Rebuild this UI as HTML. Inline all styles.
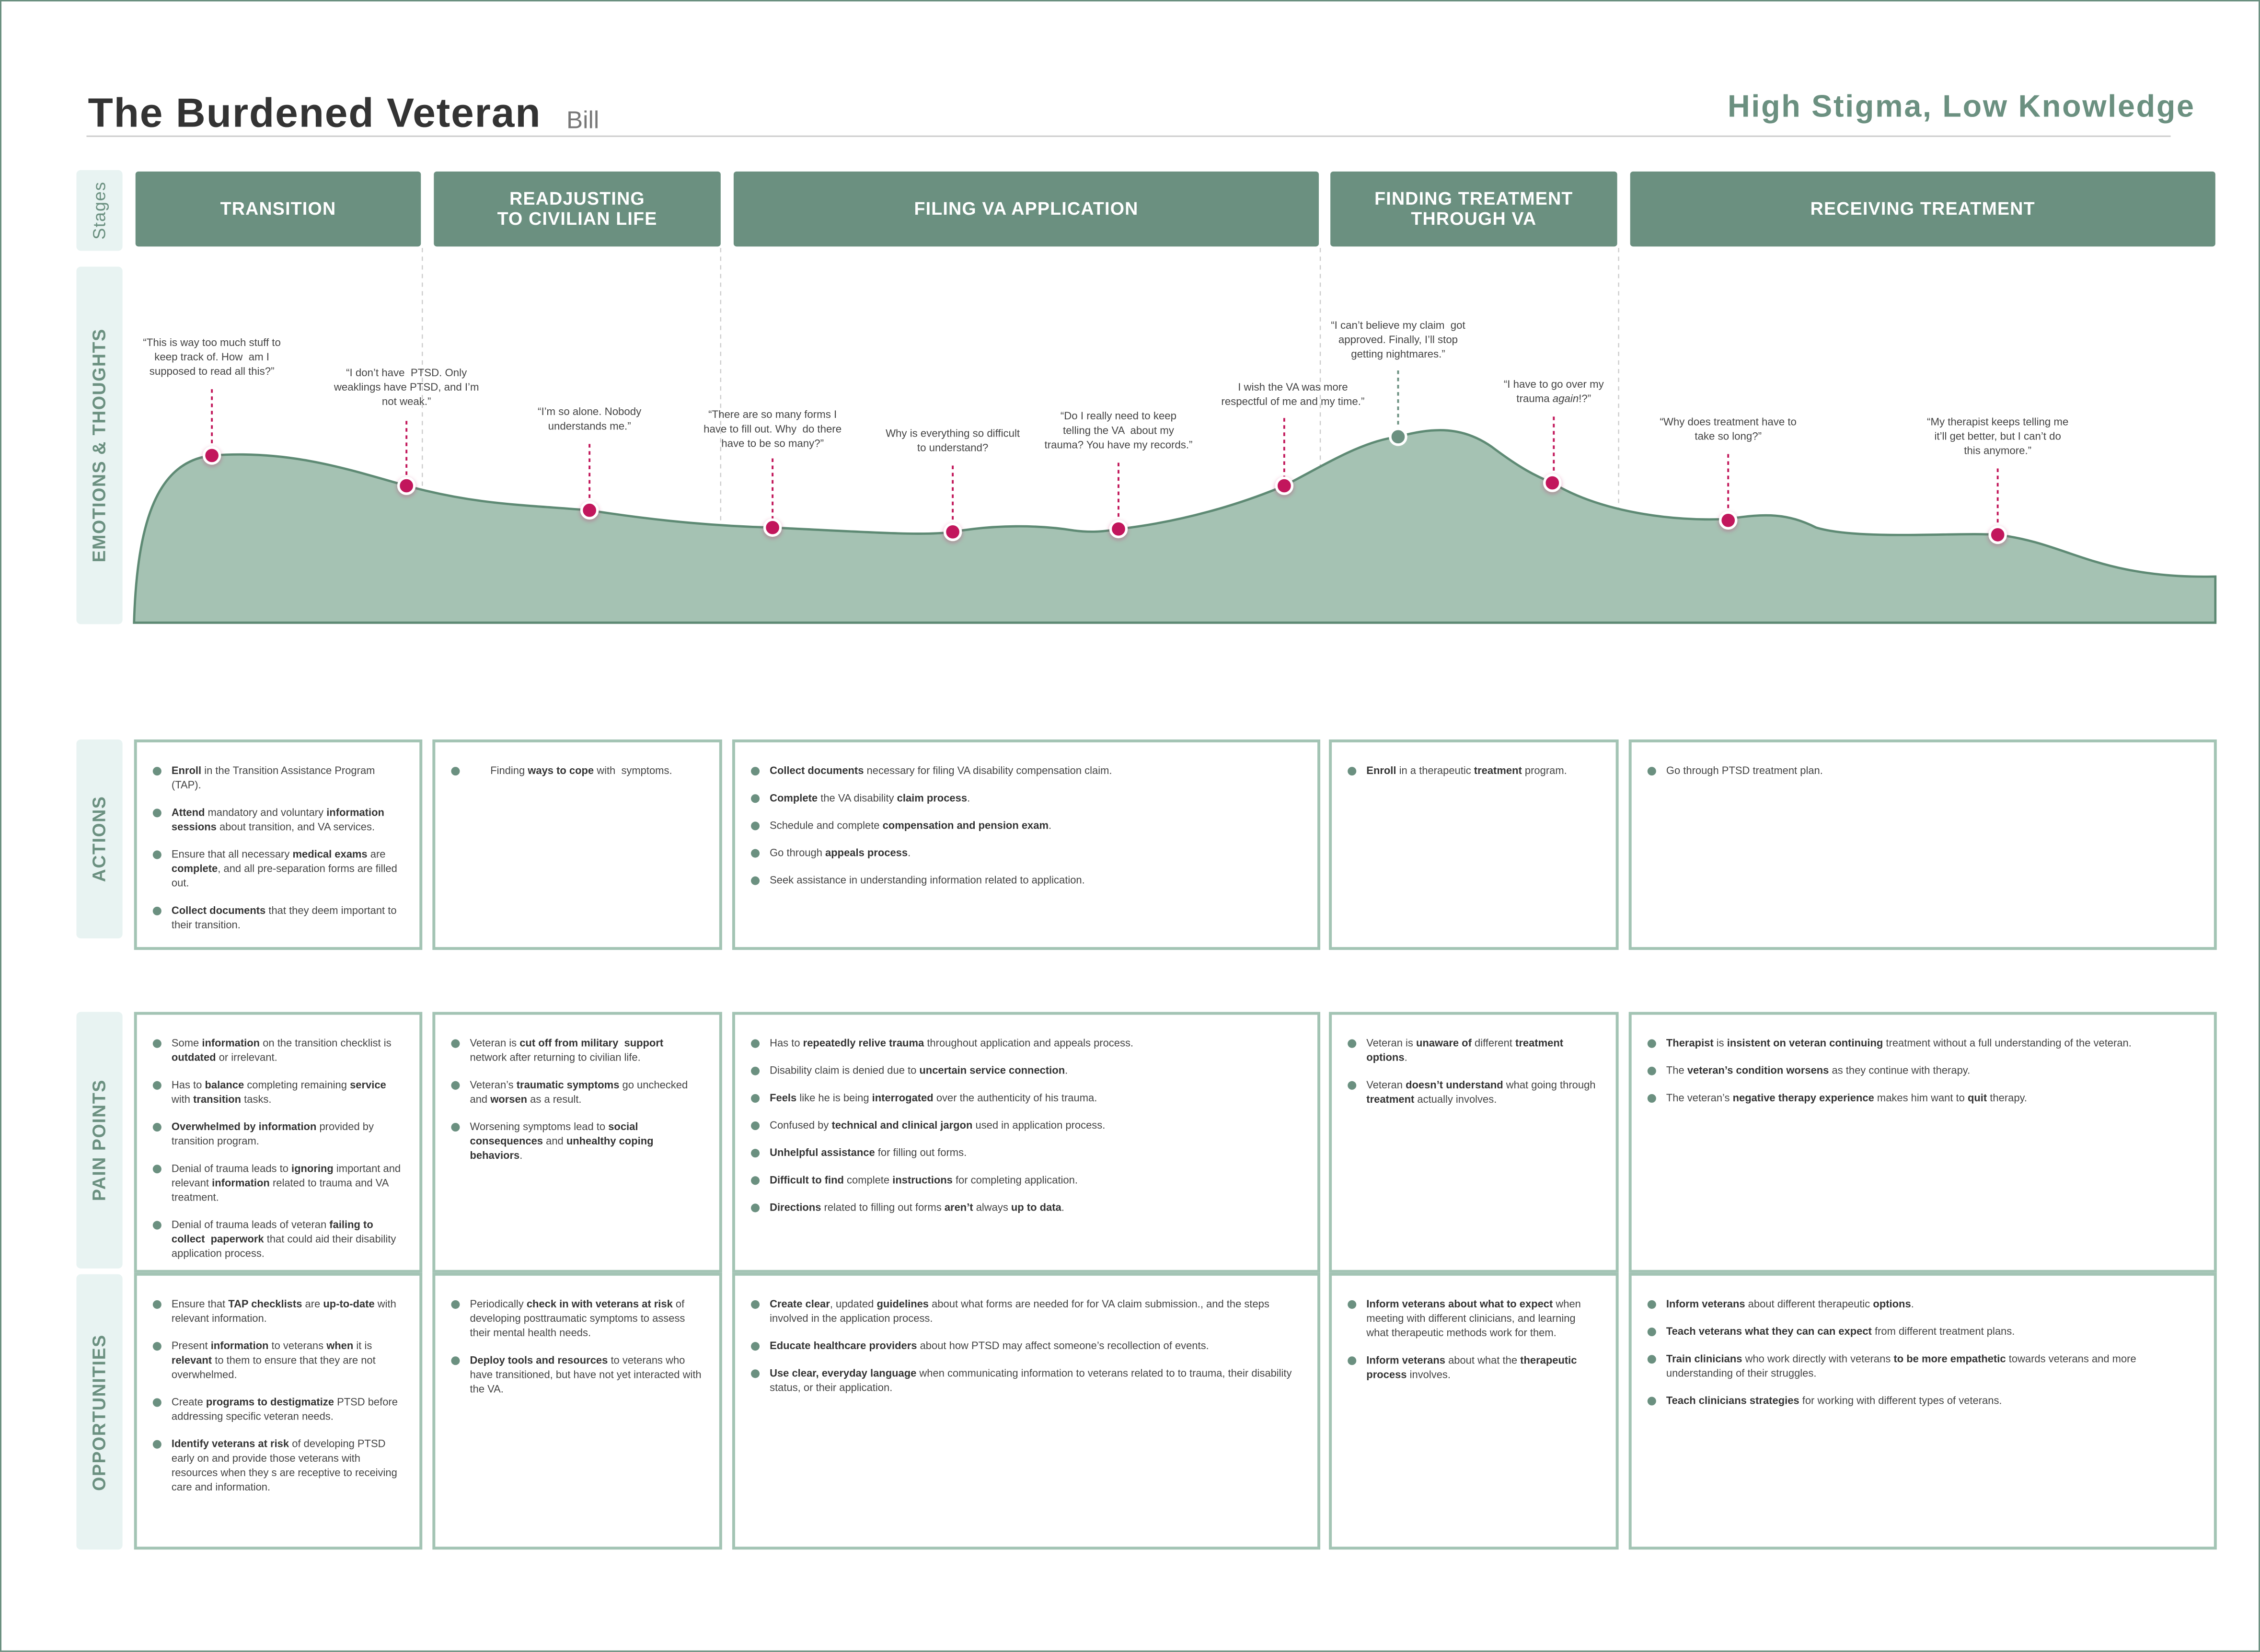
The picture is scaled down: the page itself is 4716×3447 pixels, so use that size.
<!DOCTYPE html>
<html><head><meta charset="utf-8">
<style>
html,body{margin:0;padding:0;background:#fff;}
body{width:4716px;height:3446px;overflow:hidden;position:relative;}
#s{position:absolute;left:0;top:0;width:1568px;height:1146px;transform:scale(3.0077);transform-origin:0 0;font-family:"Liberation Sans",sans-serif;color:#444;}
.abs{position:absolute;}
.frame{left:0;top:0;width:1566px;height:1144px;border:1px solid #6b9080;}
.lbl{background:#e8f3f2;border-radius:3px;}
.lbl span{position:absolute;left:50%;top:50%;transform:translate(-50%,-50%) rotate(-90deg);white-space:nowrap;color:#6b9080;font-weight:bold;font-size:12.5px;letter-spacing:.5px;}
.stage{background:#6b9080;color:#fff;font-weight:bold;font-size:12.5px;letter-spacing:.4px;display:flex;align-items:center;justify-content:center;text-align:center;line-height:14px;top:119px;height:52px;border-radius:2px;}
.q{font-size:7.4px;line-height:10px;text-align:center;color:#444;transform:translateX(-50%);white-space:nowrap;}
.box{border:2px solid #a3c4b4;box-sizing:border-box;padding:15px 12px 0 24px;}
.box ul{list-style:none;margin:0;padding:0;}
.box li{position:relative;font-size:7.3px;line-height:10px;margin-bottom:9px;}
.box li:before{content:"";position:absolute;left:-13px;top:2px;width:6px;height:6px;border-radius:50%;background:#6b9080;}
.box b{color:#333;}
</style></head><body><div id="s">
<div class="abs frame"></div>
<div class="abs" style="left:61px;top:63px;font-size:28.5px;font-weight:bold;color:#333;letter-spacing:.6px;">The Burdened Veteran</div>
<div class="abs" style="left:393px;top:74px;font-size:17px;color:#777;">Bill</div>
<div class="abs" style="left:60px;top:94px;width:1446px;height:1px;background:#ccc;"></div>
<div class="abs" style="right:45px;top:62px;font-size:21.5px;font-weight:bold;color:#6b9080;letter-spacing:.9px;">High Stigma, Low Knowledge</div>

<div class="abs lbl" style="left:53px;top:118px;width:32px;height:56px;"><span style="font-weight:normal;font-size:12px;">Stages</span></div>
<div class="abs lbl" style="left:53px;top:185px;width:32px;height:248px;"><span>EMOTIONS &amp; THOUGHTS</span></div>
<div class="abs lbl" style="left:53px;top:513px;width:32px;height:138px;"><span>ACTIONS</span></div>
<div class="abs lbl" style="left:53px;top:702px;width:32px;height:178px;"><span>PAIN POINTS</span></div>
<div class="abs lbl" style="left:53px;top:884px;width:32px;height:191px;"><span>OPPORTUNITIES</span></div>

<div class="abs stage" style="left:94px;width:198px;">TRANSITION</div>
<div class="abs stage" style="left:301px;width:199px;">READJUSTING<br>TO CIVILIAN LIFE</div>
<div class="abs stage" style="left:509px;width:406px;">FILING VA APPLICATION</div>
<div class="abs stage" style="left:923px;width:199px;">FINDING TREATMENT<br>THROUGH VA</div>
<div class="abs stage" style="left:1131px;width:406px;">RECEIVING TREATMENT</div>

<svg class="abs" style="left:0;top:0;" width="1568" height="460">
<defs><filter id="g" x="-1" y="-1" width="3" height="3"><feDropShadow dx="0" dy="1" stdDeviation="1.5" flood-color="#c2185b" flood-opacity=".35"/></filter></defs>
<g stroke="#ccc" stroke-width="0.8" stroke-dasharray="3,3">
<line x1="293" y1="172" x2="293" y2="432"/><line x1="500" y1="172" x2="500" y2="432"/><line x1="916" y1="172" x2="916" y2="432"/><line x1="1123" y1="172" x2="1123" y2="432"/>
</g>
<path d="M93,432 C95,360 110,320 147,316 C200,312 240,325 282,337 C330,350 360,350 409,354 C460,362 500,365 536,366 C600,369 640,372 661,369 C690,364 720,364 745,368 C760,370 770,368 776,367 C820,362 860,350 891,337 C920,322 945,306 970,303 C995,296 1015,296 1035,310 C1055,325 1065,330 1077,335 C1110,355 1160,362 1199,360 C1225,356 1240,356 1260,366 C1290,375 1360,369 1386,371 C1420,375 1440,388 1475,395 C1505,401 1530,400 1537,400 L1537,432 Z" fill="#a5c2b3" stroke="#5e8a74" stroke-width="1.6"/>
<g stroke="#c2185b" stroke-width="1.3" stroke-dasharray="2.5,2.5">
<line x1="147" y1="270" x2="147" y2="312"/><line x1="282" y1="292" x2="282" y2="333"/><line x1="409" y1="308" x2="409" y2="350"/><line x1="536" y1="318" x2="536" y2="362"/><line x1="661" y1="323" x2="661" y2="365"/><line x1="776" y1="321" x2="776" y2="363"/><line x1="891" y1="290" x2="891" y2="333"/><line x1="1078" y1="289" x2="1078" y2="331"/><line x1="1199" y1="315" x2="1199" y2="357"/><line x1="1386" y1="325" x2="1386" y2="367"/>
</g>
<line x1="970" y1="257" x2="970" y2="299" stroke="#6b9080" stroke-width="1.3" stroke-dasharray="2.5,2.5"/>
<g fill="#c2185b" stroke="#fff" stroke-width="1.8" filter="url(#g)">
<circle cx="147" cy="316" r="5.5"/><circle cx="282" cy="337" r="5.5"/><circle cx="409" cy="354" r="5.5"/><circle cx="536" cy="366" r="5.5"/><circle cx="661" cy="369" r="5.5"/><circle cx="776" cy="367" r="5.5"/><circle cx="891" cy="337" r="5.5"/><circle cx="1077" cy="335" r="5.5"/><circle cx="1199" cy="361" r="5.5"/><circle cx="1386" cy="371" r="5.5"/>
</g>
<circle cx="970" cy="303" r="5.5" fill="#6b9080" stroke="#fff" stroke-width="1.8"/>
</svg>

<div class="abs q" style="left:147px;top:233px;">“This is way too much stuff to<br>keep track of. How &nbsp;am I<br>supposed to read all this?”</div>
<div class="abs q" style="left:282px;top:254px;">“I don’t have &nbsp;PTSD. Only<br>weaklings have PTSD, and I’m<br>not weak.”</div>
<div class="abs q" style="left:409px;top:281px;">“I’m so alone. Nobody<br>understands me.”</div>
<div class="abs q" style="left:536px;top:283px;">“There are so many forms I<br>have to fill out. Why &nbsp;do there<br>have to be so many?”</div>
<div class="abs q" style="left:661px;top:296px;">Why is everything so difficult<br>to understand?</div>
<div class="abs q" style="left:776px;top:284px;">“Do I really need to keep<br>telling the VA &nbsp;about my<br>trauma? You have my records.”</div>
<div class="abs q" style="left:897px;top:264px;">I wish the VA was more<br>respectful of me and my time.”</div>
<div class="abs q" style="left:970px;top:221px;">“I can’t believe my claim &nbsp;got<br>approved. Finally, I’ll stop<br>getting nightmares.”</div>
<div class="abs q" style="left:1078px;top:262px;">“I have to go over my<br>trauma <i>again</i>!?”</div>
<div class="abs q" style="left:1199px;top:288px;">“Why does treatment have to<br>take so long?”</div>
<div class="abs q" style="left:1386px;top:288px;">“My therapist keeps telling me<br>it’ll get better, but I can’t do<br>this anymore.”</div>

<!-- ACTIONS -->
<div class="abs box" style="left:93px;top:513px;width:200px;height:146px;"><ul>
<li><b>Enroll</b> in the Transition Assistance Program (TAP).</li>
<li><b>Attend</b> mandatory and voluntary <b>information sessions</b> about transition, and VA services.</li>
<li>Ensure that all necessary <b>medical exams</b> are <b>complete</b>, and all pre-separation forms are filled out.</li>
<li><b>Collect documents</b> that they deem important to their transition.</li></ul></div>
<div class="abs box" style="left:300px;top:513px;width:201px;height:146px;"><ul>
<li>&nbsp;&nbsp;&nbsp;&nbsp;&nbsp;&nbsp;&nbsp;Finding <b>ways to cope</b> with &nbsp;symptoms.</li></ul></div>
<div class="abs box" style="left:508px;top:513px;width:408px;height:146px;"><ul>
<li><b>Collect documents</b> necessary for filing VA disability compensation claim.</li>
<li><b>Complete</b> the VA disability <b>claim process</b>.</li>
<li>Schedule and complete <b>compensation and pension exam</b>.</li>
<li>Go through <b>appeals process</b>.</li>
<li>Seek assistance in understanding information related to application.</li></ul></div>
<div class="abs box" style="left:922px;top:513px;width:201px;height:146px;"><ul>
<li><b>Enroll</b> in a therapeutic <b>treatment</b> program.</li></ul></div>
<div class="abs box" style="left:1130px;top:513px;width:408px;height:146px;"><ul>
<li>Go through PTSD treatment plan.</li></ul></div>

<!-- PAIN POINTS -->
<div class="abs box" style="left:93px;top:702px;width:200px;height:181px;"><ul>
<li>Some <b>information</b> on the transition checklist is <b>outdated</b> or irrelevant.</li>
<li>Has to <b>balance</b> completing remaining <b>service</b> with <b>transition</b> tasks.</li>
<li><b>Overwhelmed by information</b> provided by transition program.</li>
<li>Denial of trauma leads to <b>ignoring</b> important and relevant <b>information</b> related to trauma and VA treatment.</li>
<li>Denial of trauma leads of veteran <b>failing to collect &nbsp;paperwork</b> that could aid their disability application process.</li></ul></div>
<div class="abs box" style="left:300px;top:702px;width:201px;height:181px;"><ul>
<li>Veteran is <b>cut off from military &nbsp;support</b> network after returning to civilian life.</li>
<li>Veteran’s <b>traumatic symptoms</b> go unchecked and <b>worsen</b> as a result.</li>
<li>Worsening symptoms lead to <b>social consequences</b> and <b>unhealthy coping behaviors</b>.</li></ul></div>
<div class="abs box" style="left:508px;top:702px;width:408px;height:181px;"><ul>
<li>Has to <b>repeatedly relive trauma</b> throughout application and appeals process.</li>
<li>Disability claim is denied due to <b>uncertain service connection</b>.</li>
<li><b>Feels</b> like he is being <b>interrogated</b> over the authenticity of his trauma.</li>
<li>Confused by <b>technical and clinical jargon</b> used in application process.</li>
<li><b>Unhelpful assistance</b> for filling out forms.</li>
<li><b>Difficult to find</b> complete <b>instructions</b> for completing application.</li>
<li><b>Directions</b> related to filling out forms <b>aren’t</b> always <b>up to data</b>.</li></ul></div>
<div class="abs box" style="left:922px;top:702px;width:201px;height:181px;"><ul>
<li>Veteran is <b>unaware of</b> different <b>treatment options</b>.</li>
<li>Veteran <b>doesn’t understand</b> what going through <b>treatment</b> actually involves.</li></ul></div>
<div class="abs box" style="left:1130px;top:702px;width:408px;height:181px;"><ul>
<li><b>Therapist</b> is <b>insistent on veteran continuing</b> treatment without a full understanding of the veteran.</li>
<li>The <b>veteran’s condition worsens</b> as they continue with therapy.</li>
<li>The veteran’s <b>negative therapy experience</b> makes him want to <b>quit</b> therapy.</li></ul></div>

<!-- OPPORTUNITIES -->
<div class="abs box" style="left:93px;top:883px;width:200px;height:192px;"><ul>
<li>Ensure that <b>TAP checklists</b> are <b>up-to-date</b> with relevant information.</li>
<li>Present <b>information</b> to veterans <b>when</b> it is <b>relevant</b> to them to ensure that they are not overwhelmed.</li>
<li>Create <b>programs to destigmatize</b> PTSD before addressing specific veteran needs.</li>
<li><b>Identify veterans at risk</b> of developing PTSD early on and provide those veterans with resources when they s are receptive to receiving care and information.</li></ul></div>
<div class="abs box" style="left:300px;top:883px;width:201px;height:192px;"><ul>
<li>Periodically <b>check in with veterans at risk</b> of developing posttraumatic symptoms to assess their mental health needs.</li>
<li><b>Deploy tools and resources</b> to veterans who have transitioned, but have not yet interacted with the VA.</li></ul></div>
<div class="abs box" style="left:508px;top:883px;width:408px;height:192px;"><ul>
<li><b>Create clear</b>, updated <b>guidelines</b> about what forms are needed for for VA claim submission., and the steps involved in the application process.</li>
<li><b>Educate healthcare providers</b> about how PTSD may affect someone’s recollection of events.</li>
<li><b>Use clear, everyday language</b> when communicating information to veterans related to to trauma, their disability status, or their application.</li></ul></div>
<div class="abs box" style="left:922px;top:883px;width:201px;height:192px;"><ul>
<li><b>Inform veterans about what to expect</b> when meeting with different clinicians, and learning what therapeutic methods work for them.</li>
<li><b>Inform veterans</b> about what the <b>therapeutic process</b> involves.</li></ul></div>
<div class="abs box" style="left:1130px;top:883px;width:408px;height:192px;"><ul>
<li><b>Inform veterans</b> about different therapeutic <b>options</b>.</li>
<li><b>Teach veterans what they can can expect</b> from different treatment plans.</li>
<li><b>Train clinicians</b> who work directly with veterans <b>to be more empathetic</b> towards veterans and more understanding of their struggles.</li>
<li><b>Teach clinicians strategies</b> for working with different types of veterans.</li></ul></div>
</div></body></html>
